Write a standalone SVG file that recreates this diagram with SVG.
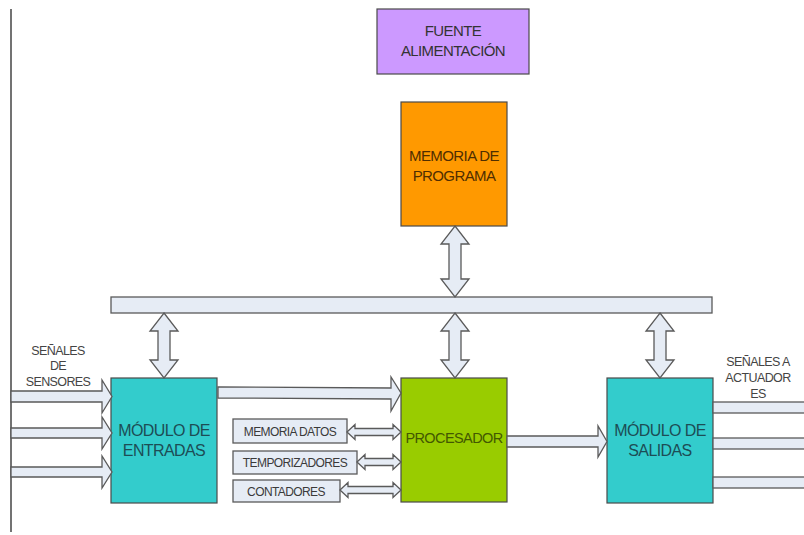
<svg xmlns="http://www.w3.org/2000/svg" width="804" height="535" viewBox="0 0 804 535">
<style>
text{font-family:"Liberation Sans",Arial,sans-serif;text-anchor:middle;letter-spacing:-0.6px}
.box{stroke:#4a4a4a;stroke-width:1.2}
.arw{fill:#e6ecf5;stroke:#5a5a5a;stroke-width:1.3;stroke-linejoin:miter}
.big{font-size:15px}
.mod{font-size:16px;fill:#1d4d55}
.sm{font-size:12px;fill:#3a3a3a}
.lab{font-size:12.5px;fill:#444}
</style>
<rect width="804" height="535" fill="#ffffff"/>
<line x1="11" y1="9" x2="11" y2="532" stroke="#444" stroke-width="1.5"/>

<g id="fuente">
<rect class="box" x="377" y="9" width="152" height="65" fill="#cc99ff"/>
<text class="big" x="453" y="36" fill="#333">FUENTE</text>
<text class="big" x="453" y="56" fill="#333">ALIMENTACIÓN</text>
</g>

<g id="memoria-programa">
<rect class="box" x="401" y="102" width="106" height="124" fill="#ff9900"/>
<text class="big" x="454" y="161" fill="#4f2e00">MEMORIA DE</text>
<text class="big" x="454" y="181" fill="#4f2e00">PROGRAMA</text>
</g>

<g id="bus">
<rect class="arw" x="111" y="297" width="601" height="16"/>
</g>

<g id="modulo-entradas">
<rect class="box" x="111" y="378" width="106" height="125" fill="#33cccc"/>
<text class="mod" x="164" y="436">MÓDULO DE</text>
<text class="mod" x="164" y="456">ENTRADAS</text>
</g>

<g id="procesador">
<rect class="box" x="401" y="378" width="106" height="124" fill="#99cc00"/>
<text x="454" y="443" fill="#435800" style="font-size:14.5px">PROCESADOR</text>
</g>

<g id="modulo-salidas">
<rect class="box" x="607" y="378" width="106" height="125" fill="#33cccc"/>
<text class="mod" x="660" y="436">MÓDULO DE</text>
<text class="mod" x="660" y="456">SALIDAS</text>
</g>

<g id="memoria-datos">
<rect class="arw" x="233" y="419" width="114" height="24"/>
<text class="sm" x="290" y="436">MEMORIA DATOS</text>
</g>
<g id="temporizadores">
<rect class="arw" x="233" y="451" width="124" height="23"/>
<text class="sm" x="295" y="467">TEMPORIZADORES</text>
</g>
<g id="contadores">
<rect class="arw" x="233" y="480" width="107" height="22"/>
<text class="sm" x="286" y="496">CONTADORES</text>
</g>

<g id="labels">
<text class="lab" x="58" y="355">SEÑALES</text>
<text class="lab" x="58" y="370">DE</text>
<text class="lab" x="58" y="386">SENSORES</text>
<text class="lab" x="758" y="366">SEÑALES A</text>
<text class="lab" x="758" y="382">ACTUADOR</text>
<text class="lab" x="758" y="398">ES</text>
</g>

<g id="connectors">
<polygon class="arw" points="455,226 469,244 461,244 461,279 469,279 455,297 441,279 449,279 449,244 441,244"/>
<polygon class="arw" points="455,313 469,331 461,331 461,360 469,360 455,378 441,360 449,360 449,331 441,331"/>
<polygon class="arw" points="164,313 178,331 170,331 170,360 178,360 164,378 150,360 158,360 158,331 150,331"/>
<polygon class="arw" points="660,313 674,331 666,331 666,360 674,360 660,378 646,360 654,360 654,331 646,331"/>
<polygon class="arw" points="11,391 102,391 102,380 112,396.5 102,413 102,402 11,402"/>
<polygon class="arw" points="11,428 102,428 102,417 112,433 102,449 102,438 11,438"/>
<polygon class="arw" points="11,467 102,467 102,456 112,472 102,488 102,477 11,477"/>
<polygon class="arw" points="218,387 391,388 391,377 401,393 391,411 391,399 218,398"/>
<polygon class="arw" points="507,436 598,436 598,426 607,441.5 598,457 598,447 507,447"/>
<polygon class="arw" points="347,432 355,424.5 355,428.5 393,428.5 393,424.5 401,432 393,439.5 393,435.5 355,435.5 355,439.5"/>
<polygon class="arw" points="357,462 365,454.5 365,458.5 393,458.5 393,454.5 401,462 393,469.5 393,465.5 365,465.5 365,469.5"/>
<polygon class="arw" points="340,490 348,482.5 348,486.5 393,486.5 393,482.5 401,490 393,497.5 393,493.5 348,493.5 348,497.5"/>
<rect class="arw" x="713" y="402" width="100" height="11"/>
<rect class="arw" x="713" y="438" width="100" height="11"/>
<rect class="arw" x="713" y="477" width="100" height="11"/>
</g>
</svg>
